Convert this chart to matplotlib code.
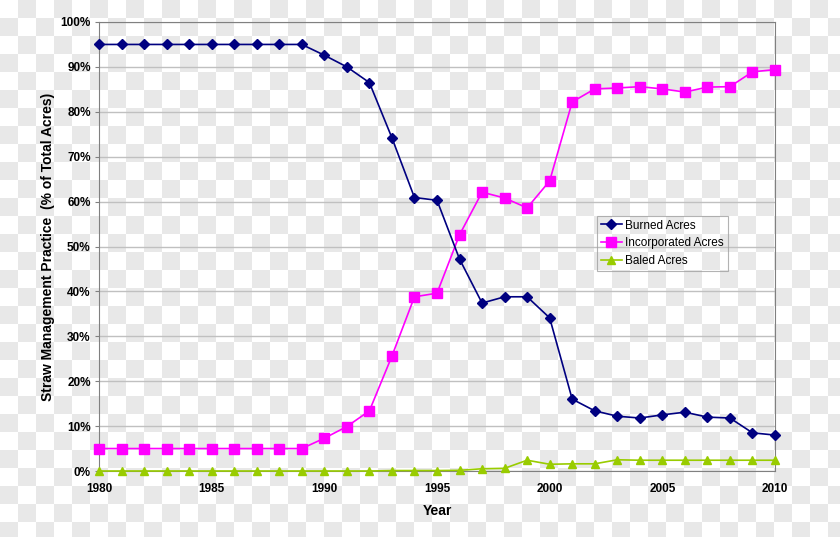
import numpy as np
import matplotlib
matplotlib.use("Agg")
import matplotlib.pyplot as plt

plt.rcParams['font.family'] = ['Liberation Sans', 'DejaVu Sans']

years = list(range(1980, 2011))
burned = [95, 95, 95, 95, 95, 95, 95, 95, 95, 95,
          92.6, 90.0, 86.5, 74.2, 60.9, 60.3, 47.2, 37.4, 38.8, 38.8,
          34.1, 16.0, 13.4, 12.2, 11.8, 12.5, 13.1, 12.0, 11.8, 8.5, 8.0]
incorporated = [5, 5, 5, 5, 5, 5, 5, 5, 5, 5,
                7.3, 9.9, 13.4, 25.6, 38.8, 39.6, 52.6, 62.1, 60.8, 58.6,
                64.6, 82.2, 85.1, 85.3, 85.6, 85.1, 84.4, 85.5, 85.6, 88.9, 89.4]
baled = [0, 0, 0, 0, 0, 0, 0, 0, 0, 0,
         0, 0, 0, 0.1, 0.1, 0.1, 0.15, 0.5, 0.6, 2.4,
         1.5, 1.6, 1.6, 2.5, 2.4, 2.4, 2.4, 2.4, 2.4, 2.4, 2.4]

W, H = 840, 537
fig = plt.figure(figsize=(W / 100, H / 100), dpi=100)

# checkerboard background (transparency pattern)
ncol, nrow = W // 18 + 1, H // 18 + 1
checker = (np.add.outer(np.arange(nrow), np.arange(ncol)) % 2).astype(float)
bgax = fig.add_axes([0, 0, 1, 1], zorder=-5)
bgax.imshow(checker, cmap='gray_r', vmin=0, vmax=11, interpolation='nearest',
            extent=[0, ncol * 18, nrow * 18, 0], aspect='auto')
bgax.set_xlim(0, W)
bgax.set_ylim(H, 0)
bgax.axis('off')

ax = fig.add_axes([99 / W, 1 - 471 / H, (775 - 99) / W, (471 - 22) / H])
ax.patch.set_alpha(0)

ax.plot(years, burned, color='#000080', marker='D', markersize=5, lw=1.2,
        label='Burned Acres', clip_on=False, zorder=5)
ax.plot(years, incorporated, color='#ff00ff', marker='s', markersize=6.5, lw=1.2,
        label='Incorporated Acres', clip_on=False, zorder=4)
ax.plot(years, baled, color='#99cc00', marker='^', markersize=6, lw=1.2,
        label='Baled Acres', clip_on=False, zorder=3)

ax.set_xlim(1980, 2010)
ax.set_ylim(0, 100)
ax.set_xticks(range(1980, 2011, 5))
ax.set_yticks(range(0, 101, 10))
ax.set_yticklabels([f'{v}%' for v in range(0, 101, 10)])
ax.grid(axis='y', color='#c0c0c0', lw=1)
ax.set_axisbelow(True)
for s in ax.spines.values():
    s.set_color('#808080')
ax.tick_params(axis='y', length=3, color='#808080', labelsize=8.5, pad=3)
ax.tick_params(axis='x', length=0, labelsize=8.5, pad=9)
for lab in ax.get_xticklabels() + ax.get_yticklabels():
    lab.set_fontweight('bold')

ax.set_xlabel('Year', fontsize=10, fontweight='bold', labelpad=6)
ax.set_ylabel('Straw Management Practice  (% of Total Acres)', fontsize=10,
              fontweight='bold', labelpad=4)

leg = ax.legend(loc='upper left', bbox_to_anchor=((597 - 99) / (775 - 99), (471 - 216) / (471 - 22)),
                fontsize=8.5, frameon=True, fancybox=False, facecolor='none',
                edgecolor='#a0a0a0', handlelength=1.8, borderpad=0.3,
                labelspacing=0.5, handletextpad=0.3, borderaxespad=0)
leg.get_frame().set_linewidth(0.8)

fig.savefig('out.png', dpi=100)
